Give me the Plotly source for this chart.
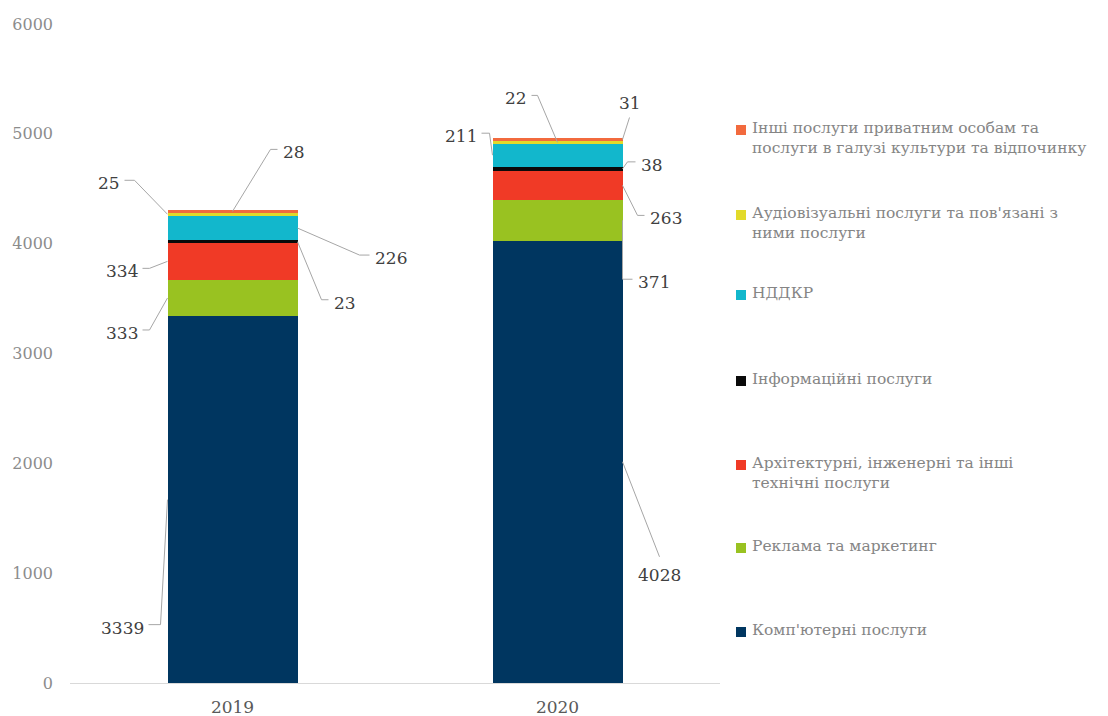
import plotly.graph_objects as go

years = ["2019", "2020"]

series_names = [
    "Комп'ютерні послуги",
    "Реклама та маркетинг",
    "Архітектурні, інженерні та інші<br>технічні послуги",
    "Інформаційні послуги",
    "НДДКР",
    "Аудіовізуальні послуги та пов'язані з<br>ними послуги",
    "Інші послуги приватним особам та<br>послуги в галузі культури та відпочинку",
]
computer = [3339, 4028]
advertising = [333, 371]
architecture = [334, 263]
information = [23, 38]
rnd = [226, 211]
audiovisual = [25, 22]
other = [28, 31]
series_values = [computer, advertising, architecture, information, rnd, audiovisual, other]

colors = ["#003660", "#99C221", "#F03A26", "#0A0A0A", "#12B7CC", "#E2DA2A", "#F26A3E"]

FONT = "DejaVu Serif"

# leader-line layout per label: (bar side -1/0/1, elbow dx, elbow dy, end dx, end dy, text side) in px
label_pos = [
    [(-1, -7, 125, -19, 125, "left"), (1, 37, 95, 37, 95, "below")],
    [(-1, -18, 32, -25, 32, "left"), (1, 0, 59, 10, 59, "right")],
    [(-1, -18, 7, -25, 7, "left"), (1, 15, 30, 22, 30, "right")],
    [(1, 24, 58, 31, 58, "right"), (1, 5, -7, 13, -7, "right")],
    [(1, 62, 27, 72, 27, "right"), (-1, -3, -22, -11, -22, "left")],
    [(-1, -33, -34, -43, -34, "left"), (0, -20, -47, -26, -47, "left")],
    [(0, 38, -62, 45, -62, "right"), (1, 7, -22, 7, -22, "above")],
]

BAR_W = 0.4
xpos = list(range(len(years)))

plot_left, plot_w, plot_top, plot_h = 70, 650, 24, 659
YMAX = 6000
px_x = plot_w / 2.0
px_y = plot_h / YMAX

fig = go.Figure()
for name, vals, col in zip(series_names, series_values, colors):
    fig.add_trace(go.Bar(x=xpos, y=vals, name=name, marker=dict(color=col, line=dict(width=0)),
                         width=BAR_W, showlegend=False, hoverinfo="skip"))

annotations = []
cum = [0.0 for _ in years]
for si, vals in enumerate(series_values):
    for yi, v in enumerate(vals):
        mid = cum[yi] + v / 2
        side, ex, ey, tx, ty, tside = label_pos[si][yi]
        x0 = xpos[yi] + side * BAR_W / 2
        xs = [x0, x0 + ex / px_x, x0 + tx / px_x]
        ys = [mid, mid - ey / px_y, mid - ty / px_y]
        fig.add_trace(go.Scatter(x=xs, y=ys, mode="lines", line=dict(color="#A6A6A6", width=1),
                                 showlegend=False, hoverinfo="skip"))
        ann = dict(x=xs[-1], y=ys[-1], xref="x", yref="y", text=str(v), showarrow=False,
                   font=dict(family=FONT, size=17, color="#404040"))
        if tside == "left":
            ann.update(xanchor="right", yanchor="middle", xshift=-3, yshift=-3)
        elif tside == "right":
            ann.update(xanchor="left", yanchor="middle", xshift=3, yshift=-3)
        elif tside == "below":
            ann.update(xanchor="center", yanchor="top", yshift=-6)
        else:
            ann.update(xanchor="center", yanchor="bottom", yshift=2)
        annotations.append(ann)
        cum[yi] += v

legend_tops = [632, 548, 465, 381, 295, 215, 130]
shapes = []
for name, col, top in zip(series_names, colors, legend_tops):
    py = (plot_top + plot_h - top) / plot_h
    sq = 10 / plot_h
    x0 = (736 - plot_left) / plot_w
    x1 = (746 - plot_left) / plot_w
    shapes.append(dict(type="rect", xref="paper", yref="paper", x0=x0, x1=x1,
                       y0=py - sq / 2, y1=py + sq / 2, fillcolor=col, line=dict(width=0)))
    annotations.append(dict(
        x=(750 - plot_left) / plot_w, y=py + 13 / plot_h, xref="paper", yref="paper",
        xanchor="left", yanchor="top", align="left", showarrow=False, text=name,
        font=dict(family=FONT, size=15.5, color="#858585"),
    ))

fig.update_layout(
    width=1108, height=716,
    margin=dict(l=plot_left, r=1108 - plot_left - plot_w, t=plot_top, b=716 - plot_top - plot_h),
    barmode="stack", plot_bgcolor="white", paper_bgcolor="white",
    annotations=annotations, shapes=shapes, showlegend=False,
    xaxis=dict(range=[-0.5, 1.5], tickvals=xpos, ticktext=years, showgrid=False, zeroline=False,
               showline=True, linecolor="#D9D9D9", linewidth=1, ticks="", ticklabelstandoff=9,
               automargin=False,
               tickfont=dict(family=FONT, size=17, color="#595959")),
    yaxis=dict(range=[0, YMAX], dtick=1000, showgrid=False, zeroline=False, showline=False,
               ticklabelstandoff=16, automargin=False,
               tickfont=dict(family=FONT, size=16, color="#8C8C8C")),
)

fig.write_html("out.html")
